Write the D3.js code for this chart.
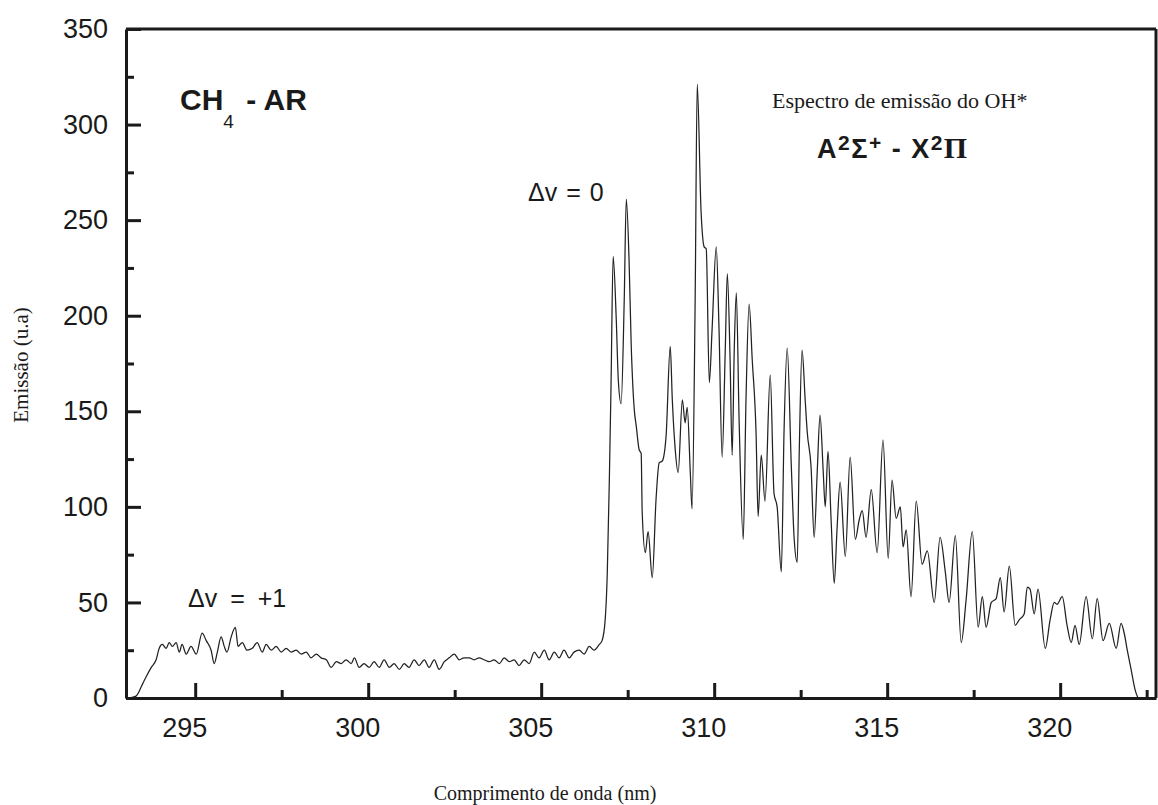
<!DOCTYPE html>
<html>
<head>
<meta charset="utf-8">
<script src="https://cdn.jsdelivr.net/npm/d3@7"></script>
<style>
  body { margin: 0; background: #fff; }
  svg { display: block; }
</style>
</head>
<body>
<svg id="chart" width="1158" height="805"></svg>
<script>
// OH* emission spectrum, CH4 / air flame
const wavelength = [
  293.09, 293.29, 293.47, 293.58, 293.73, 293.87, 293.96, 294.05, 294.16, 294.25,
  294.34, 294.45, 294.54, 294.62, 294.74, 294.88, 295.03, 295.20, 295.32, 295.46,
  295.55, 295.64, 295.75, 295.84, 295.92, 296.04, 296.16, 296.24, 296.36, 296.50,
  296.65, 296.79, 296.94, 297.05, 297.20, 297.34, 297.49, 297.63, 297.77, 297.92,
  298.06, 298.21, 298.35, 298.50, 298.64, 298.79, 298.93, 299.08, 299.22, 299.36,
  299.51, 299.60, 299.74, 299.88, 300.03, 300.17, 300.32, 300.46, 300.61, 300.75,
  300.90, 301.04, 301.18, 301.33, 301.47, 301.62, 301.76, 301.91, 302.05, 302.20,
  302.34, 302.49, 302.63, 302.77, 302.92, 303.06, 303.21, 303.35, 303.50, 303.64,
  303.79, 303.93, 304.08, 304.22, 304.36, 304.51, 304.65, 304.80, 304.94, 305.09,
  305.23, 305.38, 305.52, 305.66, 305.81, 305.95, 306.10, 306.24, 306.39, 306.53,
  306.68, 306.76, 306.85, 306.91, 306.97, 307.02, 307.08, 307.17, 307.23, 307.31,
  307.40, 307.46, 307.54, 307.60, 307.69, 307.75, 307.83, 307.89, 307.92, 308.01,
  308.09, 308.21, 308.32, 308.41, 308.50, 308.61, 308.73, 308.79, 308.87, 308.96,
  309.08, 309.16, 309.22, 309.31, 309.36, 309.45, 309.51, 309.62, 309.71, 309.77,
  309.86, 309.94, 310.06, 310.14, 310.23, 310.32, 310.38, 310.46, 310.52, 310.58,
  310.64, 310.72, 310.84, 310.92, 311.01, 311.10, 311.21, 311.27, 311.36, 311.47,
  311.62, 311.73, 311.82, 311.94, 312.02, 312.11, 312.23, 312.31, 312.40, 312.46,
  312.54, 312.63, 312.69, 312.80, 312.89, 312.98, 313.06, 313.15, 313.21, 313.29,
  313.38, 313.47, 313.55, 313.64, 313.79, 313.93, 314.08, 314.19, 314.28, 314.39,
  314.54, 314.71, 314.88, 315.03, 315.14, 315.26, 315.38, 315.46, 315.55, 315.69,
  315.84, 316.01, 316.16, 316.36, 316.53, 316.68, 316.79, 316.97, 317.14, 317.28,
  317.46, 317.63, 317.75, 317.86, 318.01, 318.15, 318.27, 318.38, 318.53, 318.70,
  318.82, 318.96, 319.05, 319.13, 319.25, 319.36, 319.57, 319.71, 319.83, 319.91,
  320.06, 320.20, 320.32, 320.43, 320.55, 320.75, 320.93, 321.07, 321.24, 321.42,
  321.62, 321.76, 321.85, 321.94, 322.05, 322.17, 322.25
];
const emission = [
  0, 1, 7, 11, 16, 20, 26, 28, 26, 29,
  27, 29, 24, 28, 23, 27, 23, 34, 30, 25,
  18, 24, 32, 27, 24, 32, 37, 27, 29, 25,
  26, 29, 24, 28, 25, 27, 24, 26, 24, 25,
  23, 24, 21, 23, 21, 20, 16, 19, 18, 20,
  18, 21, 16, 18, 16, 19, 16, 20, 16, 18,
  15, 18, 16, 20, 17, 20, 16, 20, 15, 19,
  21, 23, 20, 21, 21, 20, 21, 20, 19, 20,
  18, 21, 19, 20, 17, 20, 18, 24, 21, 25,
  20, 24, 21, 25, 21, 24, 25, 23, 27, 25,
  28, 30, 41, 65, 114, 165, 231, 198, 166, 154,
  208, 261, 229, 186, 151, 142, 130, 128, 97, 76,
  87, 63, 104, 123, 124, 137, 184, 156, 131, 118,
  156, 144, 152, 118, 99, 208, 321, 255, 236, 235,
  165, 193, 236, 193, 126, 182, 222, 177, 127, 182,
  212, 146, 83, 156, 206, 177, 139, 95, 127, 103,
  169, 107, 100, 66, 140, 183, 121, 84, 71, 130,
  182, 156, 139, 121, 84, 119, 148, 119, 100, 129,
  93, 60, 88, 113, 74, 126, 83, 93, 98, 84,
  109, 76, 135, 73, 114, 94, 100, 79, 88, 53,
  103, 70, 77, 50, 84, 66, 50, 85, 29, 51,
  87, 37, 53, 37, 50, 52, 63, 45, 69, 38,
  41, 44, 58, 57, 44, 57, 26, 41, 50, 49,
  53, 38, 29, 38, 28, 53, 31, 52, 30, 39,
  26, 39, 34, 25, 15, 4, 0
];
const xTickValues = [295, 300, 305, 310, 315, 320];
const xMinorValues = [297.5, 302.5, 307.5, 312.5, 317.5, 322.5];
const yTickValues = [0, 50, 100, 150, 200, 250, 300, 350];
const yMinorValues = [25, 75, 125, 175, 225, 275, 325];

const svg = d3.select('#chart');
const plot = { left: 126, right: 1156, top: 29, bottom: 698 };
const sans = "'Liberation Sans', Arial, sans-serif";
const serif = "'Liberation Serif', 'Times New Roman', serif";
const ink = '#1a1a1a';

const x = d3.scaleLinear().domain([293, 322.77]).range([plot.left, plot.right]);
const y = d3.scaleLinear().domain([0, 350]).range([plot.bottom, plot.top]);

// spectrum trace
const points = wavelength.map((w, i) => [w, emission[i]]);
const line = d3.line()
  .x(d => x(d[0]))
  .y(d => y(d[1]))
  .curve(d3.curveMonotoneX);

svg.append('path')
  .datum(points)
  .attr('d', line)
  .attr('fill', 'none')
  .attr('stroke', '#222')
  .attr('stroke-width', 1.25)
  .attr('stroke-linejoin', 'round');

// frame: top and right edges
svg.append('line')
  .attr('x1', plot.left).attr('x2', plot.right)
  .attr('y1', plot.top).attr('y2', plot.top)
  .attr('stroke', ink).attr('stroke-width', 3);
svg.append('line')
  .attr('x1', plot.right).attr('x2', plot.right)
  .attr('y1', plot.top).attr('y2', plot.bottom)
  .attr('stroke', ink).attr('stroke-width', 3);

// minor ticks (inward)
svg.append('g')
  .attr('transform', `translate(0,${plot.bottom})`)
  .call(d3.axisBottom(x).tickValues(xMinorValues).tickSize(-8).tickSizeOuter(0).tickFormat(''))
  .call(g => g.select('.domain').remove())
  .call(g => g.selectAll('line').attr('stroke', ink).attr('stroke-width', 3));
svg.append('g')
  .attr('transform', `translate(${plot.left},0)`)
  .call(d3.axisLeft(y).tickValues(yMinorValues).tickSize(-8).tickSizeOuter(0).tickFormat(''))
  .call(g => g.select('.domain').remove())
  .call(g => g.selectAll('line').attr('stroke', ink).attr('stroke-width', 3));

// bottom axis
const xAxis = svg.append('g')
  .attr('transform', `translate(0,${plot.bottom})`)
  .call(d3.axisBottom(x).tickValues(xTickValues).tickSize(-15).tickSizeOuter(0).tickPadding(20).tickFormat(d3.format('d')));
xAxis.select('.domain').attr('stroke', ink).attr('stroke-width', 3);
xAxis.selectAll('.tick line').attr('stroke', ink).attr('stroke-width', 3);
xAxis.selectAll('.tick text')
  .attr('font-family', sans).attr('font-size', 27).attr('fill', ink)
  .attr('dx', -11);

// left axis
const yAxis = svg.append('g')
  .attr('transform', `translate(${plot.left},0)`)
  .call(d3.axisLeft(y).tickValues(yTickValues).tickSize(-15).tickSizeOuter(0).tickPadding(18).tickFormat(d3.format('d')));
yAxis.select('.domain').attr('stroke', ink).attr('stroke-width', 3);
yAxis.selectAll('.tick line').attr('stroke', ink).attr('stroke-width', 3);
yAxis.selectAll('.tick text')
  .attr('font-family', sans).attr('font-size', 27).attr('fill', ink);

// axis titles
svg.append('text')
  .attr('transform', 'translate(28,365) rotate(-90)')
  .attr('text-anchor', 'middle')
  .attr('font-family', serif).attr('font-size', 21).attr('fill', ink)
  .text('Emissão (u.a)');
svg.append('text')
  .attr('x', 545).attr('y', 800)
  .attr('text-anchor', 'middle')
  .attr('font-family', serif).attr('font-size', 20).attr('fill', ink)
  .text('Comprimento de onda (nm)');

// annotations
const ch4 = svg.append('text')
  .attr('x', 180).attr('y', 110)
  .attr('font-family', sans).attr('font-size', 30).attr('font-weight', 'bold').attr('fill', ink);
ch4.append('tspan').text('CH');
ch4.append('tspan').attr('dy', 18).attr('font-size', 19).attr('font-weight', 'normal').text('4');
ch4.append('tspan').attr('dy', -18).attr('dx', 4).text(' - AR');

svg.append('text')
  .attr('x', 772).attr('y', 108)
  .attr('font-family', serif).attr('font-size', 22).attr('fill', ink)
  .text('Espectro de emissão do OH*');

const term = svg.append('text')
  .attr('x', 817).attr('y', 158)
  .attr('font-family', sans).attr('font-size', 27).attr('font-weight', 'bold')
  .attr('letter-spacing', 1.5).attr('fill', ink);
term.append('tspan').text('A');
term.append('tspan').attr('dy', -8).attr('font-size', 21).text('2');
term.append('tspan').attr('dy', 8).text('Σ');
term.append('tspan').attr('dy', -8).attr('font-size', 21).text('+');
term.append('tspan').attr('dy', 8).text(' - X');
term.append('tspan').attr('dy', -8).attr('font-size', 21).text('2');
term.append('tspan').attr('dy', 8).attr('font-family', serif).attr('font-size', 30).text('Π');

svg.append('text')
  .attr('x', 528).attr('y', 201)
  .attr('font-family', sans).attr('font-size', 25).attr('word-spacing', 2).attr('fill', ink)
  .text('Δv = 0');
svg.append('text')
  .attr('x', 188).attr('y', 607)
  .attr('font-family', sans).attr('font-size', 25).attr('word-spacing', 6).attr('fill', ink)
  .text('Δv = +1');
</script>
</body>
</html>
